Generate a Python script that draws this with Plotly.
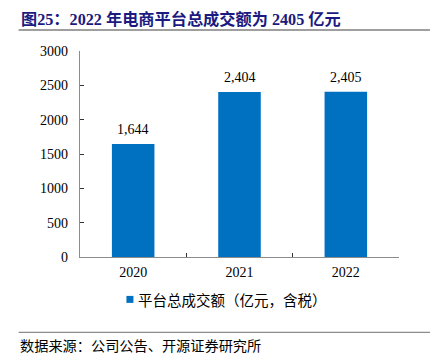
import plotly.graph_objects as go

years = ["2020", "2021", "2022"]
gmv = [1644, 2404, 2405]
labels = ["1,644", "2,404", "2,405"]
series_name = "平台总成交额（亿元，含税）"
title_text = "图25：2022 年电商平台总成交额为 2405 亿元"
source_text = "数据来源：公司公告、开源证券研究所"

SERIF = "Liberation Serif, Times New Roman, Noto Sans CJK SC, serif"
CJK = "Noto Sans CJK SC, sans-serif"
W, H = 432, 363
L, R, T, B = 79.5, 33, 51, 105.5
pw, ph = W - L - R, H - T - B

def px(x):
    return (x - L) / pw

def py(y):
    return (H - B - y) / ph

BAR_COLOR = "#0070C0"

fig = go.Figure()
fig.add_trace(go.Bar(
    x=years, y=gmv, name=series_name, width=0.4,
    marker=dict(color=BAR_COLOR, line=dict(width=0)),
    showlegend=False,
))

# value labels: category index positions on the category axis
for i, (v, lab) in enumerate(zip(gmv, labels)):
    fig.add_annotation(
        x=i, y=v, xref="x", yref="y", text=lab, showarrow=False,
        yanchor="bottom", yshift=5,
        font=dict(family=SERIF, size=14, color="#000000"),
    )

fig.update_layout(
    width=W, height=H,
    margin=dict(l=L, r=R, t=T, b=B, autoexpand=False),
    paper_bgcolor="white", plot_bgcolor="white",
    font=dict(family=SERIF, size=14, color="#000000"),
    showlegend=False,
    xaxis=dict(
        type="category", categoryorder="array", categoryarray=years,
        range=[-0.5, len(years) - 0.5],
        showline=True, linecolor="#8c8c8c", linewidth=1.2,
        ticks="inside", tickson="boundaries", ticklen=4, tickcolor="#333333",
        tickwidth=1.2, showgrid=False, tickfont=dict(family=SERIF, size=14),
        ticklabelstandoff=2,
    ),
    yaxis=dict(
        range=[0, 3000], dtick=500, showline=True, linecolor="#8c8c8c", linewidth=1.2,
        ticks="inside", ticklen=4, tickcolor="#333333", tickwidth=1.2, showgrid=False,
        zeroline=False, tickfont=dict(family=SERIF, size=14), tickformat="d",
        ticklabelstandoff=8,
    ),
)

# legend (marker + label)
fig.add_shape(type="rect", xref="paper", yref="paper",
              x0=px(126), x1=px(133), y0=py(303.5), y1=py(296.5),
              fillcolor=BAR_COLOR, line=dict(width=0))
fig.add_annotation(
    text=series_name, xref="paper", yref="paper",
    x=px(135.5), y=py(300), xanchor="left", yanchor="middle", showarrow=False,
    font=dict(family=CJK, size=14.5, color="#000000"),
)

fig.add_annotation(
    text="<b>" + title_text + "</b>", xref="paper", yref="paper",
    x=px(18), y=py(19), xanchor="left", yanchor="middle", showarrow=False,
    font=dict(family="Liberation Serif, Noto Sans CJK SC, serif", size=16.2, color="#1a1a80"),
)
fig.add_annotation(
    text=source_text, xref="paper", yref="paper",
    x=px(17), y=py(346), xanchor="left", yanchor="middle", showarrow=False,
    font=dict(family=CJK, size=14.2, color="#000000"),
)
fig.add_shape(type="line", xref="paper", yref="paper",
              x0=px(18), x1=px(430), y0=py(30), y1=py(30),
              line=dict(color="#7f7f7f", width=1.5))
fig.add_shape(type="line", xref="paper", yref="paper",
              x0=px(18), x1=px(430), y0=py(333), y1=py(333),
              line=dict(color="#8c8c8c", width=1.2))

fig.write_html("out.html", config={"displayModeBar": False},
               post_script="document.body.style.margin='0';")
